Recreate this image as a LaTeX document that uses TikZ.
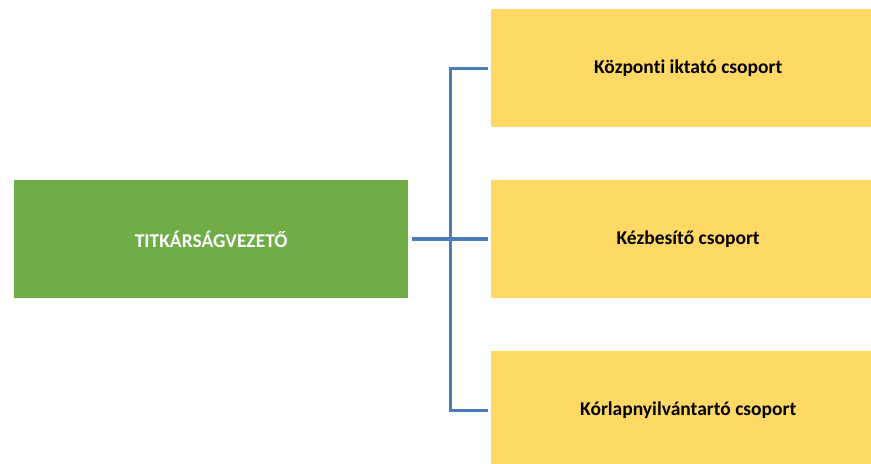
\documentclass[tikz,border=0pt]{standalone}
\usepackage{fontspec}
\setmainfont{Carlito}[Ligatures=NoCommon]
\definecolor{headgreen}{HTML}{70AD47}
\definecolor{unityellow}{HTML}{FFD966}
\definecolor{linkblue}{HTML}{4A7EBB}
\begin{document}
\begin{tikzpicture}[x=1bp,y=-1bp,
  box/.style={minimum width=394bp, minimum height=118bp, inner sep=0pt,
    font=\fontsize{19.5bp}{23bp}\selectfont\bfseries, anchor=north west},
  headbox/.style={box, fill=headgreen, text=white},
  unitbox/.style={box, fill=unityellow, text=black},
  conn/.style={draw=linkblue, line width=3bp}]
  \useasboundingbox (0,0) rectangle (871,464);
  \begin{scope}
    \clip (0,0) rectangle (871,464);
    % head of office
    \node[headbox] (head) at (14,180) {TITKÁRSÁGVEZETŐ};
    % groups
    \node[unitbox] (g1) at (491,9)   {Központi iktató csoport};
    \node[unitbox] (g2) at (491,180) {Kézbesítő csoport};
    \node[unitbox] (g3) at (491,351) {Kórlapnyilvántartó csoport};
  \end{scope}
  % connectors
  \coordinate (spine) at (450,239);
  \draw[conn, line width=3.5bp] ([xshift=4bp]head.east) -- ([xshift=-3bp]g2.west);
  \draw[conn] ([xshift=-3bp]g1.west) -| (spine) |- ([xshift=-3bp]g3.west);
\end{tikzpicture}
\end{document}
